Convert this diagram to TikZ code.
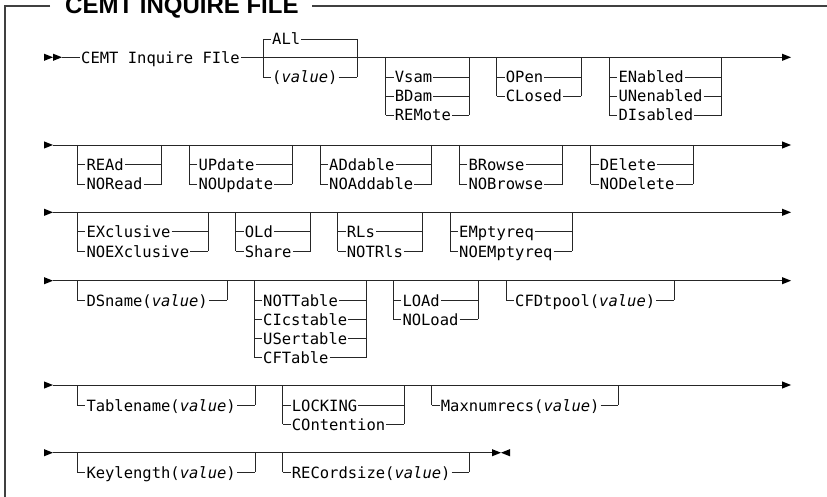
\documentclass[tikz,border=0pt]{standalone}
\usepackage{fontspec}
\setmainfont{Liberation Sans}
\newfontfamily\monof{DejaVu Sans Mono}
\tikzset{
  rr/.style={line width=0.9pt, draw=black!85},
  frame/.style={line width=1.6pt, draw=black!75},
  lbl/.style={anchor=west, font=\monof\fontsize{15.5}{18}\selectfont, inner xsep=1pt, inner ysep=0pt, text height=12pt, text depth=0pt},
  tri/.style={fill=black}
}
% option line: name, L, R, y, text
\newcommand\opt[5]{%
  \node[lbl] (#1) at (#2+8,#4) {#5};
  \draw[rr] (#2,#4) -- (#1.west) (#1.east) -- (#3,#4);
}
% verticals: L, ytop, R, ybot
\newcommand\vb[4]{\draw[rr] (#1,#2) -- (#1,#4) (#3,#2) -- (#3,#4);}
% right-pointing triangle with tail at x=#1, line y=#2
\newcommand\rtri[2]{\fill[tri] (#1,#2-3.6) -- (#1+9,#2) -- (#1,#2+3.6) -- cycle;}
\newcommand\ltri[2]{\fill[tri] (#1,#2-3.6) -- (#1-9,#2) -- (#1,#2+3.6) -- cycle;}
\newcommand\va{\textit{value}}
\begin{document}
\begin{tikzpicture}[x=1pt,y=-1pt]
\useasboundingbox (0,0) rectangle (827,497);
% frame and title
\node[anchor=base west, font=\bfseries\fontsize{24}{28}\selectfont, inner sep=0pt] (title) at (65,14) {CEMT INQUIRE FILE};
\coordinate (fa) at (50,6);
\coordinate (fc) at (5,6);
\coordinate (fb) at (5,497);
\coordinate (fd) at (312,6);
\coordinate (fe) at (827,6);
\draw[frame] (fa) -- (fc) -- (fb);
\draw[frame] (fd) -- (fe);

% ---------- row 1 ----------
\rtri{44}{57.3}\rtri{53}{57.3}
\coordinate (s1) at (62,57.3);
\coordinate (e1) at (782,57.3);
\node[lbl] (cemt) at (80,57.3) {CEMT Inquire FIle};
\draw[rr] (s1) -- (cemt.west) (cemt.east) -- (e1);
\rtri{782}{57.3}
\opt{all}{263}{357}{39}{ALl}
\opt{val1}{263}{357}{77}{(\va)}
\vb{263}{39}{357}{77}
\opt{vsam}{385.7}{469}{77}{Vsam}
\opt{bdam}{385.7}{469}{96}{BDam}
\opt{remote}{385.7}{469}{115}{REMote}
\vb{385.7}{57.3}{469}{115}
\opt{open}{496.7}{581}{77}{OPen}
\opt{closed}{496.7}{581}{96}{CLosed}
\vb{496.7}{57.3}{581}{96}
\opt{enabled}{609.3}{721.7}{77}{ENabled}
\opt{unenabled}{609.3}{721.7}{96}{UNenabled}
\opt{disabled}{609.3}{721.7}{115}{DIsabled}
\vb{609.3}{57.3}{721.7}{115}

% ---------- row 2 ----------
\rtri{44}{145}
\coordinate (s2) at (53,145);
\coordinate (e2) at (782,145);
\draw[rr] (s2) -- (e2);
\rtri{782}{145}
\opt{read}{77.3}{161.7}{164.5}{REAd}
\opt{noread}{77.3}{161.7}{184}{NORead}
\vb{77.3}{145}{161.7}{184}
\opt{update}{189.3}{292.3}{164.5}{UPdate}
\opt{noupdate}{189.3}{292.3}{184}{NOUpdate}
\vb{189.3}{145}{292.3}{184}
\opt{addable}{320}{431.7}{164.5}{ADdable}
\opt{noaddable}{320}{431.7}{184}{NOAddable}
\vb{320}{145}{431.7}{184}
\opt{browse}{459.3}{562.7}{164.5}{BRowse}
\opt{nobrowse}{459.3}{562.7}{184}{NOBrowse}
\vb{459.3}{145}{562.7}{184}
\opt{delete}{590.7}{693.3}{164.5}{DElete}
\opt{nodelete}{590.7}{693.3}{184}{NODelete}
\vb{590.7}{145}{693.3}{184}

% ---------- row 3 ----------
\rtri{44}{212.3}
\coordinate (s3) at (53,212.3);
\coordinate (e3) at (782,212.3);
\draw[rr] (s3) -- (e3);
\rtri{782}{212.3}
\opt{excl}{77.3}{208.3}{231.7}{EXclusive}
\opt{noexcl}{77.3}{208.3}{251}{NOEXclusive}
\vb{77.3}{212.3}{208.3}{251}
\opt{old}{235.7}{310.7}{231.7}{OLd}
\opt{share}{235.7}{310.7}{251}{Share}
\vb{235.7}{212.3}{310.7}{251}
\opt{rls}{337.7}{422.7}{231.7}{RLs}
\opt{notrls}{337.7}{422.7}{251}{NOTRls}
\vb{337.7}{212.3}{422.7}{251}
\opt{empty}{450}{572.3}{231.7}{EMptyreq}
\opt{noempty}{450}{572.3}{251}{NOEMptyreq}
\vb{450}{212.3}{572.3}{251}

% ---------- row 4 ----------
\rtri{44}{280.7}
\coordinate (s4) at (53,280.7);
\coordinate (e4) at (782,280.7);
\draw[rr] (s4) -- (e4);
\rtri{782}{280.7}
\opt{dsname}{77.3}{227.3}{300}{DSname(\va)}
\vb{77.3}{280.7}{227.3}{300}
\opt{nott}{254}{366.7}{300}{NOTTable}
\opt{cics}{254}{366.7}{319}{CIcstable}
\opt{user}{254}{366.7}{338}{USertable}
\opt{cft}{254}{366.7}{357.3}{CFTable}
\vb{254}{280.7}{366.7}{357.3}
\opt{load}{393.3}{478.3}{300}{LOAd}
\opt{noload}{393.3}{478.3}{319}{NOLoad}
\vb{393.3}{280.7}{478.3}{319}
\opt{cfd}{506}{674.3}{300}{CFDtpool(\va)}
\vb{506}{280.7}{674.3}{300}

% ---------- row 5 ----------
\rtri{44}{385}
\coordinate (s5) at (53,385);
\coordinate (e5) at (782,385);
\draw[rr] (s5) -- (e5);
\rtri{782}{385}
\opt{tname}{77.3}{255}{405}{Tablename(\va)}
\vb{77.3}{385}{255}{405}
\opt{locking}{282.7}{404}{405}{LOCKING}
\opt{content}{282.7}{404}{424}{COntention}
\vb{282.7}{385}{404}{424}
\opt{maxnum}{431.7}{618.3}{405}{Maxnumrecs(\va)}
\vb{431.7}{385}{618.3}{405}

% ---------- row 6 ----------
\rtri{44}{452.7}
\coordinate (s6) at (53,452.7);
\coordinate (e6) at (492,452.7);
\draw[rr] (s6) -- (e6);
\rtri{492}{452.7}\ltri{510}{452.7}
\opt{keylen}{77.3}{255}{472}{Keylength(\va)}
\vb{77.3}{452.7}{255}{472}
\opt{recsize}{282.7}{469}{472}{RECordsize(\va)}
\vb{282.7}{452.7}{469}{472}
\end{tikzpicture}
\end{document}
